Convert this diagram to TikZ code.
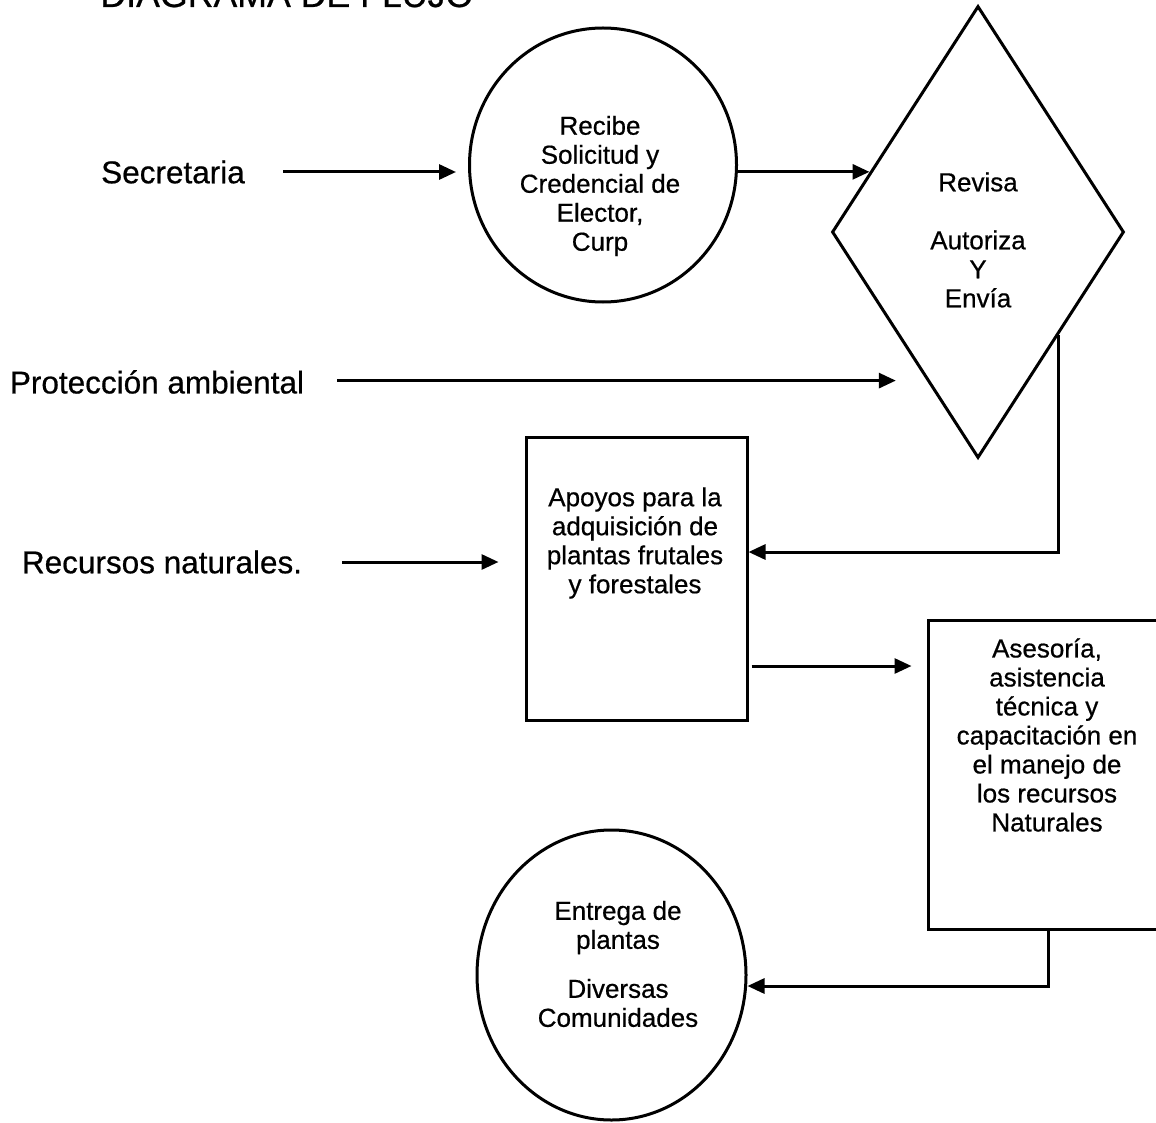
\documentclass[tikz,border=0pt]{standalone}
\usepackage{fontspec}
\setmainfont{Liberation Sans}[FakeBold=0.6]
\usetikzlibrary{shapes.geometric,arrows.meta}

\tikzset{
  x=0.5pt, y=-0.5pt,
  shapeline/.style={draw=black, line width=1.5pt, inner sep=0pt},
  roundbox/.style={shapeline, ellipse},
  decision/.style={shapeline, diamond, minimum width=146pt, minimum height=226pt},
  stepbox/.style={shapeline, rectangle},
  lbl/.style={inner sep=0pt, font=\fontsize{15.75}{18}\selectfont},
  inner/.style={inner sep=0pt, align=center, font=\fontsize{13}{14.5}\selectfont},
  arr/.style={line width=1.5pt, -{Triangle[length=8.5pt,width=7.5pt]}},
}

\begin{document}
\begin{tikzpicture}
  \fill[white] (0,0) rectangle (1156,1123);
  \useasboundingbox (0,0) rectangle (1156,1123);

  % heading, partly above the page edge
  \node[anchor=base west, inner sep=0pt, font=\fontsize{17.85}{20}\selectfont] (title) at (100,7) {DIAGRAMA DE FLUJO};

  % left-hand labels
  \node[lbl] (sec)  at (173,172) {Secretaria};
  \node[lbl] (prot) at (157,382) {Protección ambiental};
  \node[lbl] (rec)  at (162,562) {Recursos naturales.};

  % shapes
  \node[roundbox, minimum width=133.5pt, minimum height=137pt] (recibe) at (603,165) {};
  \node[decision] (revisa) at (978,232) {};
  \node[stepbox, minimum width=110.5pt, minimum height=141.5pt] (apoyos) at (636.5,578.5) {};
  \node[stepbox, minimum width=117pt, minimum height=154.5pt] (aseso) at (1045,774.5) {};
  \node[roundbox, minimum width=134.5pt, minimum height=145pt] (entrega) at (611.5,975) {};

  % texts inside the shapes
  \node[inner] (recibetxt) at (600,186) {Recibe\\Solicitud y\\Credencial de\\Elector,\\Curp};
  \node[inner] (revisatxt) at (978,240) {Revisa\\[14.5pt]Autoriza\\Y\\Envía};
  \node[inner] (apoyostxt) at (635,543) {Apoyos para la\\adquisición de\\plantas frutales\\y forestales};
  \node[inner] (asesotxt) at (1047,735) {Asesoría,\\asistencia\\técnica y\\capacitación en\\el manejo de\\los recursos\\Naturales};
  \node[inner] (entregatxt) at (618,964) {Entrega de\\plantas\\[10pt]Diversas\\Comunidades};

  % connectors
  \draw[arr, shorten <=19pt, shorten >=6pt] (sec.east) -- (sec.east -| recibe.west);
  \draw[arr] (recibe.east |- revisa.151) -- (revisa.151);
  \draw[arr, shorten <=16.5pt, shorten >=15.5pt] (prot.east |- revisa.251) -- (revisa.251);
  \draw[arr] (revisa.308) |- ([yshift=13.25pt]apoyos.east);
  \draw[arr, shorten <=20pt, shorten >=13pt] (rec.east) -- (rec.east -| apoyos.west);
  \draw[arr, shorten <=1.5pt, shorten >=7.5pt] ([yshift=-43.75pt]apoyos.east) -- ([yshift=-43.75pt]apoyos.east -| aseso.west);
  \draw[arr] ([xshift=1.5pt]aseso.south) |- ([yshift=-5.5pt]entrega.east);
\end{tikzpicture}
\end{document}
